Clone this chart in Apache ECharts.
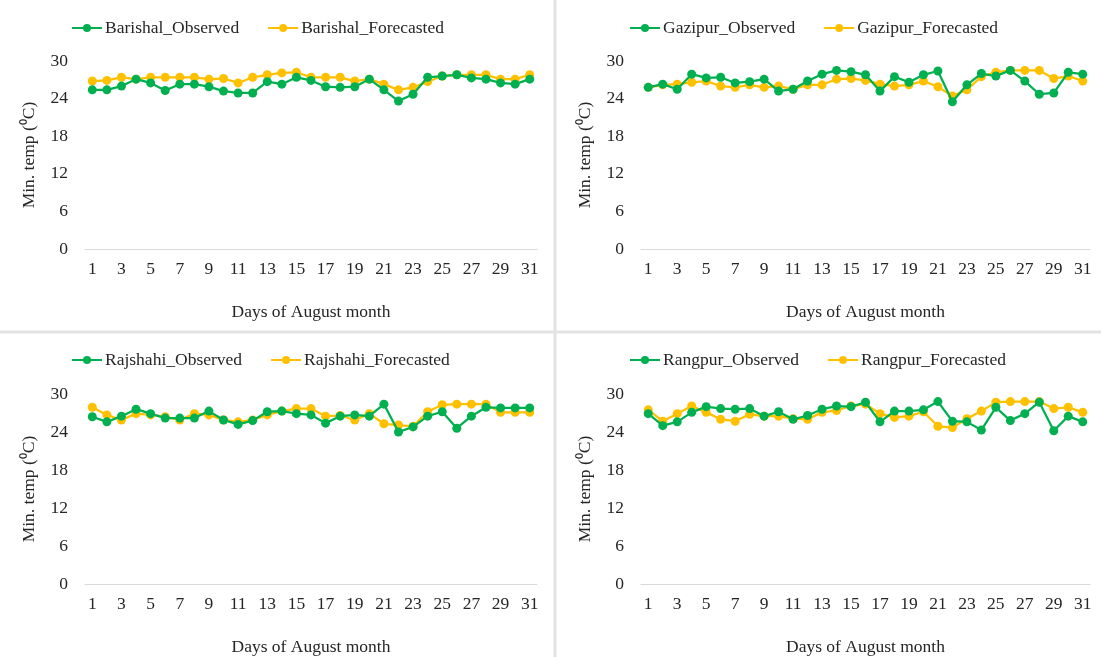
<!DOCTYPE html>
<html>
<head>
<meta charset="utf-8">
<script src="https://cdn.jsdelivr.net/npm/echarts@6/dist/echarts.min.js"></script>
<style>
  html, body { margin: 0; padding: 0; background: #fff; }
  #main { width: 1101px; height: 657px; }
</style>
</head>
<body>
<div id="main"></div>
<script>
// days of August
var days = [];
for (var d = 1; d <= 31; d++) days.push(String(d));
var yTicks = [0, 6, 12, 18, 24, 30];

// min temperature readings (deg C)
var barishalObs = [25.4, 25.4, 26.0, 27.1, 26.5, 25.3, 26.3, 26.3, 25.9, 25.2, 24.9, 24.9, 26.7, 26.3, 27.4, 26.9, 25.9, 25.8, 25.9, 27.1, 25.4, 23.6, 24.7, 27.4, 27.6, 27.8, 27.3, 27.1, 26.5, 26.3, 27.1];
var barishalFc = [26.8, 26.9, 27.4, 27.1, 27.4, 27.4, 27.4, 27.4, 27.1, 27.2, 26.5, 27.4, 27.8, 28.1, 28.2, 27.4, 27.4, 27.4, 26.8, 27.1, 26.3, 25.4, 25.8, 26.7, 27.6, 27.8, 27.8, 27.8, 27.1, 27.1, 27.8];

var gazipurObs = [25.8, 26.3, 25.5, 27.9, 27.3, 27.4, 26.5, 26.7, 27.1, 25.2, 25.5, 26.8, 27.9, 28.5, 28.3, 27.8, 25.2, 27.5, 26.6, 27.8, 28.4, 23.5, 26.2, 28.0, 27.6, 28.5, 26.8, 24.7, 24.9, 28.2, 27.9];
var gazipurFc = [25.8, 26.2, 26.3, 26.6, 26.8, 26.0, 25.8, 26.2, 25.8, 26.0, 25.5, 26.2, 26.2, 27.1, 27.2, 26.9, 26.3, 26.0, 26.2, 26.8, 25.9, 24.4, 25.4, 27.5, 28.2, 28.5, 28.5, 28.5, 27.2, 27.6, 26.8];

var rajshahiObs = [26.4, 25.6, 26.5, 27.6, 26.9, 26.2, 26.2, 26.2, 27.3, 25.9, 25.2, 25.8, 27.2, 27.3, 26.9, 26.7, 25.4, 26.5, 26.7, 26.5, 28.4, 24.0, 24.8, 26.5, 27.2, 24.6, 26.5, 27.9, 27.8, 27.8, 27.8];
var rajshahiFc = [27.9, 26.7, 25.9, 26.9, 26.7, 26.4, 25.9, 26.9, 26.7, 25.9, 25.6, 25.9, 26.7, 27.3, 27.7, 27.7, 26.5, 26.6, 25.9, 26.9, 25.3, 25.1, 24.9, 27.2, 28.3, 28.4, 28.4, 28.4, 27.1, 27.1, 27.1];

var rangpurObs = [26.9, 25.0, 25.6, 27.1, 28.0, 27.7, 27.6, 27.7, 26.5, 27.2, 26.0, 26.6, 27.6, 28.1, 28.0, 28.7, 25.6, 27.3, 27.3, 27.5, 28.8, 25.7, 25.6, 24.3, 27.9, 25.8, 26.9, 28.7, 24.2, 26.5, 25.6];
var rangpurFc = [27.5, 25.7, 26.9, 28.1, 27.1, 26.0, 25.7, 26.8, 26.5, 26.5, 26.1, 26.0, 27.1, 27.4, 28.1, 28.4, 26.9, 26.3, 26.5, 27.2, 24.9, 24.7, 26.1, 27.3, 28.7, 28.8, 28.8, 28.8, 27.7, 27.9, 27.1];

var stations = ['Barishal', 'Gazipur', 'Rajshahi', 'Rangpur'];
var observed = [barishalObs, gazipurObs, rajshahiObs, rangpurObs];
var forecasted = [barishalFc, gazipurFc, rajshahiFc, rangpurFc];

var FONT = 'Liberation Serif';
var FS = 17.5;
var TXT = '#262626';
var GREEN = '#00b050';
var YELLOW = '#ffc000';

// panel boxes: [gridLeft, gridTop, gridWidth, gridHeight, legendCenterX, legendTop]
var panels = [
  [85, 61, 452, 188, 276, 14],
  [641, 61, 449, 188, 834, 14],
  [85, 394, 452, 190, 276, 346],
  [641, 394, 449, 190, 834, 346]
];

var chart = echarts.init(document.getElementById('main'));
var option = {
  backgroundColor: '#fff',
  animation: false,
  textStyle: { fontFamily: FONT, color: TXT },
  grid: [], xAxis: [], yAxis: [], legend: [], series: [],
  graphic: [
    { type: 'line', shape: { x1: 555, y1: 0, x2: 555, y2: 657 }, style: { stroke: '#e3e3e3', lineWidth: 3 } },
    { type: 'line', shape: { x1: 0, y1: 332, x2: 1101, y2: 332 }, style: { stroke: '#e3e3e3', lineWidth: 3 } }
  ]
};

panels.forEach(function (p, i) {
  option.grid.push({ left: p[0], top: p[1], width: p[2], height: p[3] });
  option.xAxis.push({
    type: 'category', gridIndex: i, data: days, boundaryGap: true,
    name: 'Days of August month', nameLocation: 'middle', nameGap: 54,
    nameTextStyle: { fontFamily: FONT, fontSize: FS, color: TXT },
    axisLine: { lineStyle: { color: '#d9d9d9', width: 1 } },
    axisTick: { show: false },
    axisLabel: { interval: 1, margin: 11, fontFamily: FONT, fontSize: FS, color: TXT },
    splitLine: { show: false }
  });
  option.yAxis.push({
    type: 'value', gridIndex: i, min: yTicks[0], max: yTicks[yTicks.length - 1], interval: 6,
    name: 'Min. temp (\u2070C)', nameLocation: 'middle', nameGap: 47, nameRotate: 90,
    nameTextStyle: { fontFamily: FONT, fontSize: FS, color: TXT },
    axisLine: { show: false }, axisTick: { show: false },
    axisLabel: { margin: 17, fontFamily: FONT, fontSize: FS, color: TXT },
    splitLine: { show: false }
  });
  var obsName = stations[i] + '_Observed';
  var fcName = stations[i] + '_Forecasted';
  option.legend.push({
    data: [obsName, fcName], left: p[4] - 210, width: 420, top: p[5],
    itemWidth: 30, itemHeight: 10, itemGap: 28,
    textStyle: { fontFamily: FONT, fontSize: FS, color: TXT, padding: [0, 0, 0, -2] }
  });
  option.series.push({
    name: obsName, type: 'line', xAxisIndex: i, yAxisIndex: i, data: observed[i],
    symbol: 'circle', symbolSize: 9, color: GREEN, lineStyle: { width: 2.25, color: GREEN }, z: 3
  });
  option.series.push({
    name: fcName, type: 'line', xAxisIndex: i, yAxisIndex: i, data: forecasted[i],
    symbol: 'circle', symbolSize: 9, color: YELLOW, lineStyle: { width: 2.25, color: YELLOW }, z: 2
  });
});

chart.setOption(option);
</script>
</body>
</html>
